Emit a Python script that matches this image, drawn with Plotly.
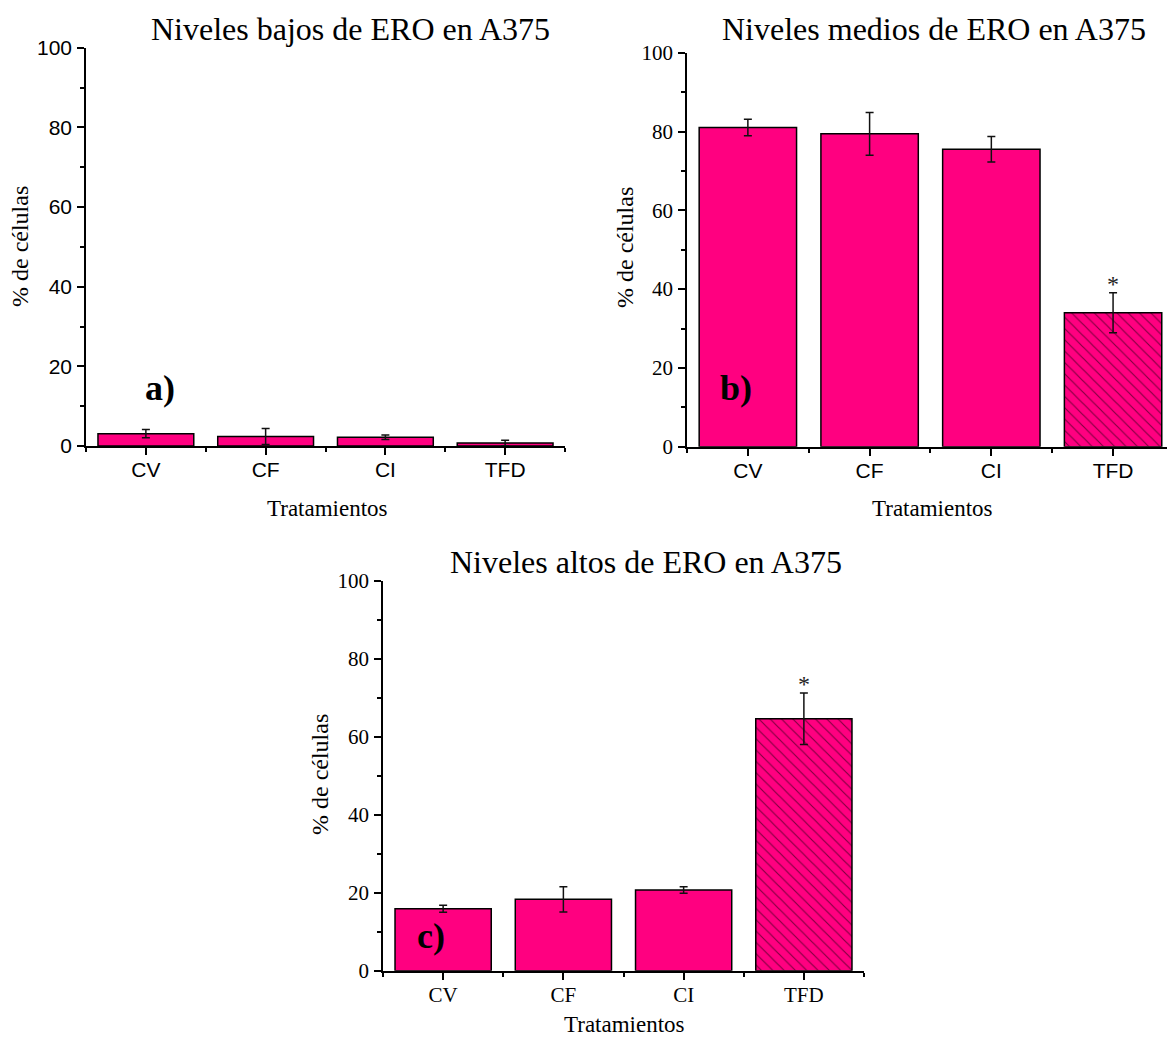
import plotly.graph_objects as go

# Treatment groups shared by the three panels
categories = ["CV", "CF", "CI", "TFD"]
positions = [1, 2, 3, 4]

# Low ROS levels (%)
low_mean = [3.1, 2.4, 2.2, 0.75]
low_err = [1.05, 2.0, 0.55, 0.68]

# Medium ROS levels (%)
mid_mean = [81.0, 79.4, 75.5, 34.0]
mid_err = [2.1, 5.4, 3.25, 5.1]

# High ROS levels (%)
high_mean = [15.9, 18.3, 20.7, 64.6]
high_err = [0.9, 3.25, 0.85, 6.6]

# Significance marks (only on the TFD group)
sig_marks = ["", "", "", "*"]

W, H = 1167, 1040
PINK = "#FF0080"
SERIF = "Liberation Serif, Times New Roman, serif"
SANS = "Liberation Sans, Arial, sans-serif"


def px(x):
    return x / W


def py(y):
    return 1 - y / H


fig = go.Figure()


def add_panel(idx, means, errs, hatched):
    xa = "x" if idx == 1 else f"x{idx}"
    ya = "y" if idx == 1 else f"y{idx}"
    shapes = ["\\" if (hatched and c == "TFD") else "" for c in categories]
    fig.add_trace(go.Bar(
        x=positions, y=means, width=0.8,
        xaxis=xa, yaxis=ya,
        marker=dict(
            color=PINK,
            line=dict(color="black", width=1.5),
            pattern=dict(shape=shapes, fgcolor="black", bgcolor=PINK,
                         size=8, solidity=0.14, fillmode="overlay"),
        ),
        error_y=dict(type="data", array=errs, color="#111111",
                     thickness=1.5, width=4),
        showlegend=False, hoverinfo="skip",
    ))
    for xv, m, e, s in zip(positions, means, errs, sig_marks):
        if hatched and s:
            fig.add_annotation(x=xv, y=m + e, xref=xa, yref=ya, text=s,
                               showarrow=False, yanchor="middle", yshift=9,
                               font=dict(family=SERIF, size=24, color="#222"))


add_panel(1, low_mean, low_err, False)
add_panel(2, mid_mean, mid_err, True)
add_panel(3, high_mean, high_err, True)


def xaxis_cfg(domain, rng, font_family, anchor):
    return dict(
        domain=domain, range=rng, anchor=anchor, automargin=False,
        tickmode="array", tickvals=positions, ticktext=categories,
        ticks="outside", ticklen=7, tickwidth=1.5, tickcolor="black",
        showline=True, linecolor="black", linewidth=2,
        showgrid=False, zeroline=False, ticklabelstandoff=-3,
        tickfont=dict(family=font_family, size=21, color="black"),
        minor=dict(tickvals=[0.5, 1.5, 2.5, 3.5, 4.5], ticks="outside",
                   ticklen=4, tickwidth=1.5, tickcolor="black", showgrid=False),
    )


def yaxis_cfg(domain, font_family, anchor):
    return dict(
        domain=domain, range=[0, 100], anchor=anchor, automargin=False,
        tickvals=[0, 20, 40, 60, 80, 100],
        ticks="outside", ticklen=7, tickwidth=1.5, tickcolor="black",
        showline=True, linecolor="black", linewidth=1.5,
        showgrid=False, zeroline=False, ticklabelstandoff=1,
        tickfont=dict(family=font_family, size=21, color="black"),
        minor=dict(tickvals=[10, 30, 50, 70, 90], ticks="outside",
                   ticklen=4, tickwidth=1.5, tickcolor="black", showgrid=False),
    )


fig.update_layout(
    width=W, height=H, autosize=False,
    margin=dict(l=0, r=0, t=0, b=0, pad=0),
    paper_bgcolor="white", plot_bgcolor="white",
    bargap=0.2,
    xaxis=xaxis_cfg([px(86), px(565)], [0.5, 4.5], SANS, "y"),
    yaxis=yaxis_cfg([py(446), py(47.7)], SANS, "x"),
    xaxis2=xaxis_cfg([px(687), 1.0], [0.5, 4.443], SANS, "y2"),
    yaxis2=yaxis_cfg([py(446.7), py(52.7)], SERIF, "x2"),
    xaxis3=xaxis_cfg([px(383), px(864)], [0.5, 4.5], SERIF, "y3"),
    yaxis3=yaxis_cfg([py(970.7), py(580.7)], SERIF, "x3"),
)

# Panel titles, axis titles and panel letters
texts = [
    ("Niveles bajos de ERO en A375", 350.5, 29, 32, 0),
    ("Niveles medios de ERO en A375", 934, 29, 32, 0),
    ("Niveles altos de ERO en A375", 646, 562, 32, 0),
    ("% de células", 20, 247, 24, -90),
    ("% de células", 625, 248, 24, -90),
    ("% de células", 320, 775, 24, -90),
    ("Tratamientos", 327, 508, 23, 0),
    ("Tratamientos", 932, 508, 23, 0),
    ("Tratamientos", 624, 1024, 23, 0),
    ("<b>a)</b>", 160, 388, 36, 0),
    ("<b>b)</b>", 736, 388, 36, 0),
    ("<b>c)</b>", 431, 936, 36, 0),
]
for t, x, y, size, ang in texts:
    fig.add_annotation(text=t, x=px(x), y=py(y), xref="paper", yref="paper",
                       showarrow=False, xanchor="center", yanchor="middle",
                       textangle=ang,
                       font=dict(family=SERIF, size=size, color="black"))

fig.write_html("out.html")
